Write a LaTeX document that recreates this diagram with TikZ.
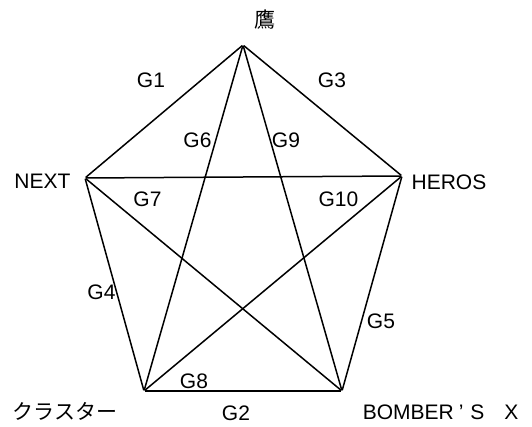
\documentclass[tikz,border=0pt]{standalone}
\usepackage{fontspec}
\setmainfont{Liberation Sans}
\newfontfamily\jpfont{Noto Sans CJK JP}
\usepackage{tikz}
\usetikzlibrary{positioning}

\begin{document}
\begin{tikzpicture}[x=1pt, y=-1pt, line width=1.5pt]
    \tikzstyle{vertex} = [inner sep=0pt, minimum size=0pt]
    \tikzstyle{team} = [inner sep=0pt, font=\fontsize{21}{25}\selectfont]
    \tikzstyle{gamelab} = [inner sep=0pt, anchor=base, font=\fontsize{21}{25}\selectfont]
    \useasboundingbox (0,0) rectangle (532,427);
    % vertices
    \node [vertex] at (243,45) (taka) {};
    \node [vertex] at (85,178) (next) {};
    \node [vertex] at (402,176) (heros) {};
    \node [vertex] at (144,391) (cluster) {};
    \node [vertex] at (342,391) (bomber) {};
    % team names
    \node [team] at (265,20) (takaname) {\jpfont 鷹};
    \node [team, anchor=base] at (42.5,189) (nextname) {NEXT};
    \node [team, anchor=base] at (449,190) (herosname) {HEROS};
    \node [team] at (65,411) (clustername) {\jpfont クラスター};
    \node [team, anchor=base west] at (362,419) (bombername) {BOMBER\hspace{5pt}’\hspace{7pt}S\hspace{20pt}X};
    % games
    \draw (taka) to (next);
    \draw (taka) to (heros);
    \draw (taka) to (cluster);
    \draw (taka) to (bomber);
    \draw (next) to (heros);
    \draw (next) to (cluster);
    \draw (next) to (bomber);
    \draw (heros) to (cluster);
    \draw (heros) to (bomber);
    \draw (cluster) to (bomber);
    % game labels
    \node [gamelab] at (151,88) (g1) {G1};
    \node [gamelab] at (236,420) (g2) {G2};
    \node [gamelab] at (332,88) (g3) {G3};
    \node [gamelab] at (101.5,299) (g4) {G4};
    \node [gamelab] at (381,328) (g5) {G5};
    \node [gamelab] at (197.5,148) (g6) {G6};
    \node [gamelab] at (147.5,207) (g7) {G7};
    \node [gamelab] at (194,388) (g8) {G8};
    \node [gamelab] at (286,148) (g9) {G9};
    \node [gamelab] at (338.5,207) (g10) {G10};
\end{tikzpicture}
\end{document}
